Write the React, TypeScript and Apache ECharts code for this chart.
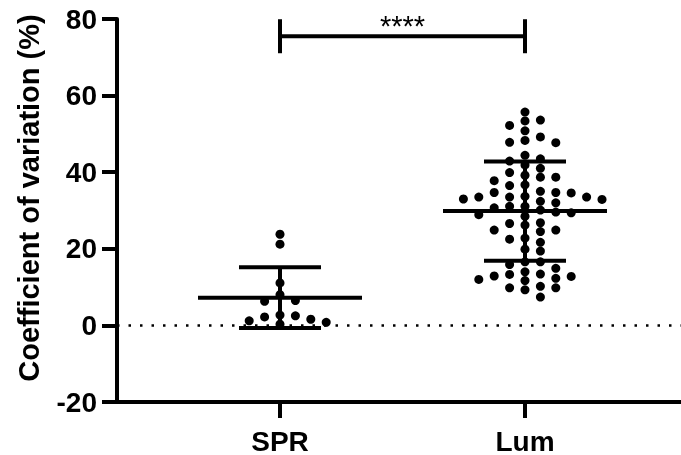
import React, { useEffect, useRef } from "react";
import * as echarts from "echarts";

const categories = ["SPR", "Lum"];
const sprValues = [23.8, 21.2, 11.1, 8.0, 6.5, 6.3, 2.5, 1.6, 2.2, 2.7, 1.2, 0.8, 0.3];
const lumValues = [
  55.7, 53.4, 53.6, 52.2, 50.8, 49.2, 48.3, 47.7, 47.8, 44.4, 42.9, 43.5, 41.9, 41.0,
  39.9, 39.2, 38.7, 38.7, 36.5, 36.7, 37.8, 33.5, 33.5, 33.7, 33.0, 34.7, 35.0, 34.6,
  33.5, 34.7, 32.4, 32.9, 32.0, 31.1, 31.1, 30.1, 30.7, 28.9, 29.6, 28.5, 29.4, 26.6,
  24.9, 26.8, 24.5, 24.9, 26.2, 21.7, 22.5, 22.8, 19.9, 19.4, 16.6, 16.6, 14.9, 15.9,
  14.0, 11.7, 12.8, 13.4, 12.3, 12.0, 12.9, 13.3, 10.2, 9.3, 9.8, 9.8, 7.4,
];
const means = [7.25, 29.85];
const sds = [7.95, 12.95];
const significance = { from: 1, to: 2, y: 75.5, label: "****" };
const yTicks = { min: -20, max: 80, interval: 20 };

const FONT = '"Liberation Sans", Arial, sans-serif';

function swarm(values: number[], center: number, colW: number, minGap: number) {
  const order = values.map((_, i) => i).sort((a, b) => values[b] - values[a]);
  const placed: { col: number; v: number }[] = [];
  const out: number[][] = new Array(values.length);
  for (const i of order) {
    const v = values[i];
    for (let k = 0; k < 60; k++) {
      const col = k === 0 ? 0 : k % 2 === 1 ? (k + 1) / 2 : -k / 2;
      if (!placed.some((p) => p.col === col && Math.abs(p.v - v) < minGap)) {
        placed.push({ col, v });
        out[i] = [center + col * colW, v];
        break;
      }
    }
  }
  return out;
}

export default function App() {
  const ref = useRef<HTMLDivElement>(null);
  useEffect(() => {
    if (!ref.current) return;
    const chart = echarts.init(ref.current, null, { renderer: "svg" });
    const colW = 15.4 / 245;
    const gap = 8.6 / 3.85;
    const sprPts = swarm(sprValues, 1, colW, gap);
    const lumPts = swarm(lumValues, 2, colW, gap);
    const statData = means.map((m, i) => [i + 1, m, sds[i]]);

    const option: any = {
      animation: false,
      grid: { left: 117, right: 0, top: 19, bottom: 51 },
      graphic: [
        {
          type: "text",
          x: 29,
          y: 198,
          rotation: Math.PI / 2,
          style: {
            text: "Coefficient of variation (%)",
            font: `bold 29px ${FONT}`,
            fill: "#000",
            align: "center",
            verticalAlign: "middle",
          },
        },
      ],
      xAxis: {
        type: "value",
        min: 1 + (117 - 280) / 245,
        max: 1 + (681 - 280) / 245,
        splitLine: { show: false },
        axisLine: { onZero: false, lineStyle: { color: "#000", width: 4 } },
        axisTick: { customValues: [1, 2], length: 16, lineStyle: { color: "#000", width: 4 } },
        axisLabel: {
          customValues: [1, 2],
          formatter: (v: number) => categories[Math.round(v) - 1] ?? "",
          margin: 25,
          color: "#000",
          fontSize: 28,
          fontWeight: "bold",
          fontFamily: FONT,
        },
      },
      yAxis: {
        type: "value",
        min: yTicks.min,
        max: yTicks.max,
        interval: yTicks.interval,
        splitLine: { show: false },
        axisLine: { show: true, onZero: false, lineStyle: { color: "#000", width: 4 } },
        axisTick: { show: true, length: 15, lineStyle: { color: "#000", width: 4 } },
        axisLabel: {
          margin: 20,
          color: "#000",
          fontSize: 28,
          fontWeight: "bold",
          fontFamily: FONT,
        },
      },
      series: [
        {
          type: "scatter",
          name: categories[0],
          data: sprPts,
          symbol: "circle",
          symbolSize: 9,
          itemStyle: { color: "#000", opacity: 1 },
          silent: true,
          markLine: {
            silent: true,
            symbol: "none",
            label: { show: false },
            lineStyle: { color: "#000", width: 2.5, type: [2.5, 9] },
            data: [{ yAxis: 0 }],
          },
        },
        {
          type: "scatter",
          name: categories[1],
          data: lumPts,
          symbol: "circle",
          symbolSize: 9,
          itemStyle: { color: "#000", opacity: 1 },
          silent: true,
        },
        {
          type: "custom",
          data: statData,
          encode: { x: 0, y: 1 },
          silent: true,
          renderItem: (params: any, api: any) => {
            const x = api.value(0);
            const m = api.value(1);
            const s = api.value(2);
            const c = api.coord([x, m]);
            const t = api.coord([x, m + s]);
            const b = api.coord([x, m - s]);
            const st = { stroke: "#000", lineWidth: 4 };
            return {
              type: "group",
              children: [
                { type: "line", shape: { x1: c[0] - 82, y1: c[1], x2: c[0] + 82, y2: c[1] }, style: st },
                { type: "line", shape: { x1: c[0], y1: t[1], x2: c[0], y2: b[1] }, style: st },
                { type: "line", shape: { x1: c[0] - 41, y1: t[1], x2: c[0] + 41, y2: t[1] }, style: st },
                { type: "line", shape: { x1: c[0] - 41, y1: b[1], x2: c[0] + 41, y2: b[1] }, style: st },
              ],
            };
          },
        },
        {
          type: "custom",
          data: [[significance.from, significance.to, significance.y]],
          encode: { x: [0, 1], y: 2 },
          silent: true,
          renderItem: (params: any, api: any) => {
            const p1 = api.coord([api.value(0), api.value(2)]);
            const p2 = api.coord([api.value(1), api.value(2)]);
            const st = { stroke: "#000", lineWidth: 4 };
            return {
              type: "group",
              children: [
                { type: "line", shape: { x1: p1[0], y1: p1[1], x2: p2[0], y2: p2[1] }, style: st },
                { type: "line", shape: { x1: p1[0], y1: p1[1] - 17, x2: p1[0], y2: p1[1] + 17 }, style: st },
                { type: "line", shape: { x1: p2[0], y1: p2[1] - 17, x2: p2[0], y2: p2[1] + 17 }, style: st },
                {
                  type: "text",
                  x: (p1[0] + p2[0]) / 2,
                  y: p1[1] + 4,
                  style: {
                    text: significance.label,
                    font: `29px ${FONT}`,
                    fill: "#000",
                    align: "center",
                    verticalAlign: "bottom",
                  },
                },
              ],
            };
          },
        },
      ],
    };
    chart.setOption(option);
    return () => chart.dispose();
  }, []);
  return (
    <div
      ref={ref}
      style={{ position: "fixed", left: 0, top: 0, width: 681, height: 455 }}
    />
  );
}
